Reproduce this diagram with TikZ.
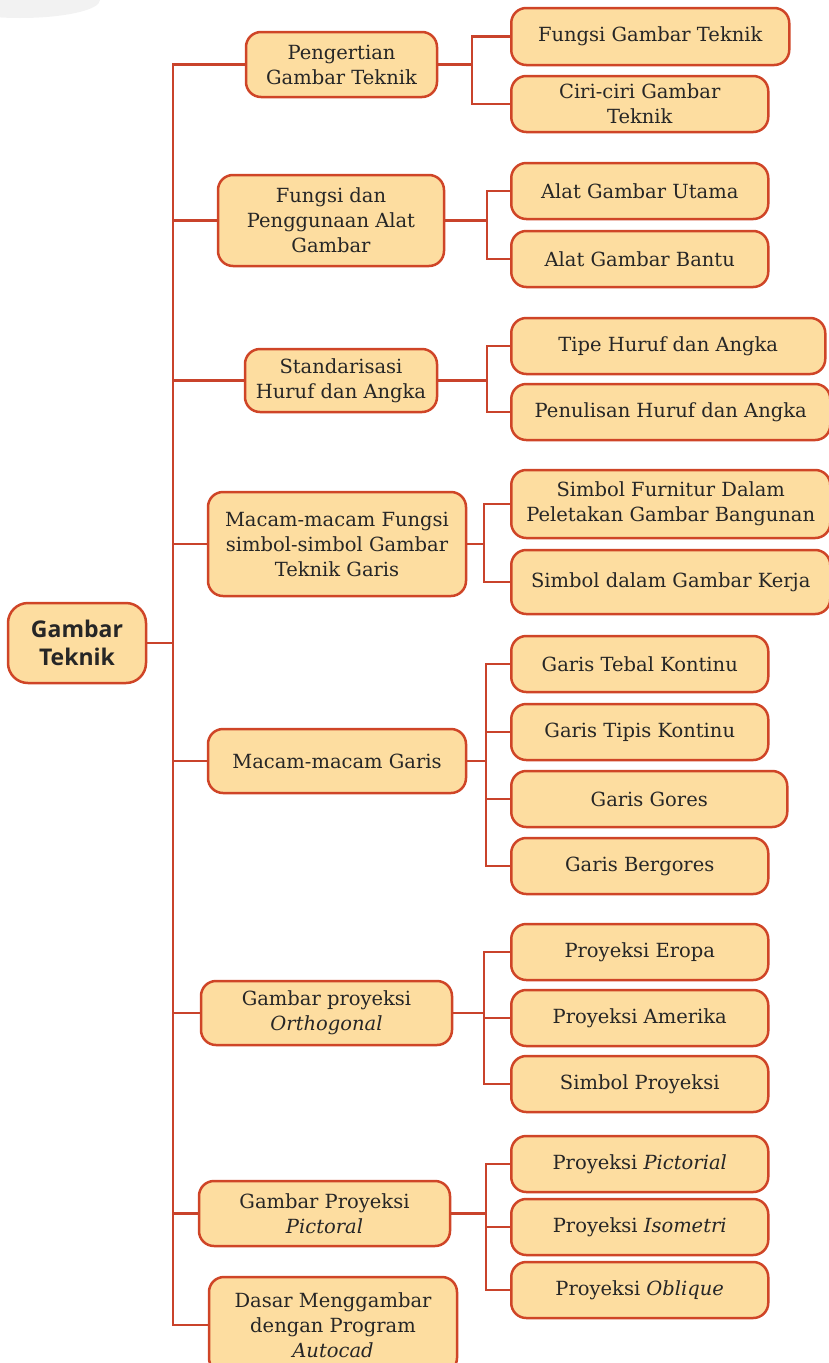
\documentclass[tikz,border=0pt]{standalone}
\usepackage{fontspec}
\setmainfont{DejaVu Serif}
\newfontfamily\rootfont{Open Sans}
\definecolor{boxfill}{HTML}{FDDDA0}
\definecolor{boxline}{HTML}{CF4527}
\definecolor{linkred}{HTML}{C9432B}
\definecolor{inktext}{HTML}{262626}
\tikzset{
    topic/.style={draw=boxline,fill=boxfill,line width=2.5pt,rounded corners=15pt,
        align=center,text=inktext,inner sep=2pt,font=\fontsize{19.5}{25}\selectfont},
    sub/.style={topic,anchor=west,minimum width=257pt,minimum height=56pt},
    link/.style={draw=linkred,line width=2.7pt}
}
\begin{document}
\begin{tikzpicture}[x=1pt,y=-1pt]
    \useasboundingbox (0,0) rectangle (829,1363);

    % soft grey patch in the corner
    \fill[black!5] (20,0) ellipse[x radius=80,y radius=18];

    % root
    \node[topic,minimum width=138pt,minimum height=80pt,rounded corners=20pt,
        font=\rootfont\bfseries\fontsize{23}{28}\selectfont] (root) at (77,643) {Gambar\\Teknik};

    % first level
    \node[topic,minimum width=191pt,minimum height=65pt] (p1) at (341.5,64.5) {Pengertian\\Gambar Teknik};
    \node[topic,minimum width=226pt,minimum height=91pt] (p2) at (331,220.5) {Fungsi dan\\Penggunaan Alat\\Gambar};
    \node[topic,minimum width=192pt,minimum height=63pt] (p3) at (341,380.5) {Standarisasi\\Huruf dan Angka};
    \node[topic,minimum width=258pt,minimum height=104pt] (p4) at (337,544) {Macam-macam Fungsi\\simbol-simbol Gambar\\Teknik Garis};
    \node[topic,minimum width=258pt,minimum height=64pt] (p5) at (337,761) {Macam-macam Garis};
    \node[topic,minimum width=251pt,minimum height=64pt] (p6) at (326.5,1013) {Gambar proyeksi\\\textit{Orthogonal}};
    \node[topic,minimum width=251pt,minimum height=65pt] (p7) at (324.5,1213.5) {Gambar Proyeksi\\\textit{Pictoral}};
    \node[topic,minimum width=248pt,minimum height=96pt] (p8) at (333,1325) {Dasar Menggambar\\dengan Program\\\textit{Autocad}};

    % second level
    \node[sub,minimum width=278pt,minimum height=57pt] (s11) at (510,36.5) {Fungsi Gambar Teknik};
    \node[sub] (s12) at (510,104) {Ciri-ciri Gambar\\Teknik};
    \node[sub] (s21) at (510,191) {Alat Gambar Utama};
    \node[sub] (s22) at (510,259) {Alat Gambar Bantu};
    \node[sub,minimum width=314pt] (s31) at (510,346) {Tipe Huruf dan Angka};
    \node[sub,minimum width=319pt] (s32) at (510,412) {Penulisan Huruf dan Angka};
    \node[sub,minimum width=319pt,minimum height=68pt] (s41) at (510,504) {Simbol Furnitur Dalam\\Peletakan Gambar Bangunan};
    \node[sub,minimum width=319pt,minimum height=64pt] (s42) at (510,582) {Simbol dalam Gambar Kerja};
    \node[sub] (s51) at (510,664) {Garis Tebal Kontinu};
    \node[sub] (s52) at (510,732) {Garis Tipis Kontinu};
    \node[sub,minimum width=276pt] (s53) at (510,799) {Garis Gores};
    \node[sub] (s54) at (510,866) {Garis Bergores};
    \node[sub] (s61) at (510,952) {Proyeksi Eropa};
    \node[sub] (s62) at (510,1018) {Proyeksi Amerika};
    \node[sub] (s63) at (510,1084) {Simbol Proyeksi};
    \node[sub] (s71) at (510,1164) {Proyeksi \textit{Pictorial}};
    \node[sub] (s72) at (510,1227) {Proyeksi \textit{Isometri}};
    \node[sub] (s73) at (510,1290) {Proyeksi \textit{Oblique}};

    % trunk and branch columns
    \coordinate (t) at (173,0);
    \coordinate (b1) at (472,0);
    \coordinate (b2) at (487,0);
    \coordinate (b3) at (487,0);
    \coordinate (b4) at (484,0);
    \coordinate (b5) at (486,0);
    \coordinate (b6) at (484,0);
    \coordinate (b7) at (486,0);

    \begin{scope}[every path/.style={link}]
        \draw (root.east) -- (root.east -| t);
        \foreach \p in {p1,p2,p3,p4,p5,p6,p7,p8}
            \draw (root.east -| t) |- (\p.west);

        \foreach \p/\s in {1/11,1/12,2/21,2/22,3/31,3/32,4/41,4/42,
                5/51,5/52,5/53,5/54,6/61,6/62,6/63,7/71,7/72,7/73}
            \draw (p\p.east) -- (p\p.east -| b\p) |- (s\s.west);
    \end{scope}
\end{tikzpicture}
\end{document}
